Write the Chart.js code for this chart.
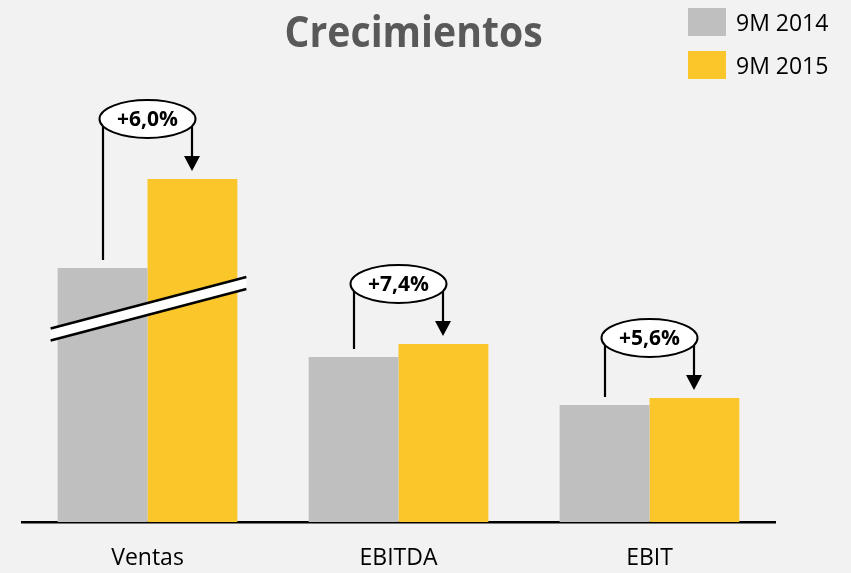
<!DOCTYPE html>
<html><head><meta charset="utf-8">
<script src="https://cdn.jsdelivr.net/npm/chart.js@4.4.1/dist/chart.umd.min.js"></script>
<style>
html,body{margin:0;padding:0;background:#f2f2f2;width:851px;height:573px;overflow:hidden;}
#wrap{position:relative;width:851px;height:573px;}
canvas{position:absolute;left:0;top:0;}
#title{position:absolute;left:0;top:9px;width:828px;text-align:center;font-family:"Open Sans";font-weight:bold;font-size:43px;line-height:43px;color:#595959;white-space:nowrap;}
#title span{display:inline-block;transform-origin:50% 50%;}
.lg-box{position:absolute;left:688px;width:38px;height:28px;}
.lg-txt{position:absolute;left:736px;font-family:"Open Sans";font-size:23px;line-height:23px;color:#000;white-space:nowrap;}
</style>
</head>
<body>
<div id="wrap">
<canvas id="c" width="851" height="573"></canvas>
<div id="title"><span id="titleText">Crecimientos</span></div>
<div id="legend"></div>
</div>
<script>
const categories = ['Ventas', 'EBITDA', 'EBIT'];
const seriesLabels = ['9M 2014', '9M 2015'];
const series2014 = [254, 165, 117];
const series2015 = [343, 178, 124];
const growthLabels = ['+6,0%', '+7,4%', '+5,6%'];
const yMax = 422;
const breakAt = 213;

const colors = ['#bfbfbf', '#fac62a'];

// title width fit
(function(){
  const m = document.createElement('canvas').getContext('2d');
  m.font = 'bold 43px "Open Sans"';
  const w = m.measureText('Crecimientos').width;
  document.getElementById('titleText').style.transform = 'scaleX(' + (258 / w) + ')';
})();

// legend
(function(){
  const lg = document.getElementById('legend');
  const tops = [8, 51];
  seriesLabels.forEach((lab, i) => {
    const b = document.createElement('div');
    b.className = 'lg-box'; b.style.top = tops[i] + 'px'; b.style.background = colors[i];
    lg.appendChild(b);
    const t = document.createElement('div');
    t.className = 'lg-txt'; t.style.top = (tops[i] + 3) + 'px'; t.textContent = lab;
    lg.appendChild(t);
  });
})();

const annot = {
  id: 'annot',
  afterDatasetsDraw(chart) {
    const ctx = chart.ctx;
    const m0 = chart.getDatasetMeta(0), m1 = chart.getDatasetMeta(1);
    const xs = chart.scales.x, ys = chart.scales.y;
    ctx.save();
    // broken-axis band on Ventas
    {
      const b0 = m0.data[0], b1 = m1.data[0];
      const xl = b0.x - b0.width / 2 - 7, xr = b1.x + b1.width / 2 + 9;
      const xc = xs.getPixelForValue(0), yc = ys.getPixelForValue(breakAt);
      const yAt = x => yc - (x - xc) * 0.263;
      const h = 6;
      ctx.beginPath();
      ctx.moveTo(xl, yAt(xl) - h); ctx.lineTo(xr, yAt(xr) - h);
      ctx.lineTo(xr, yAt(xr) + h); ctx.lineTo(xl, yAt(xl) + h); ctx.closePath();
      ctx.fillStyle = '#ffffff'; ctx.fill();
      ctx.strokeStyle = '#000'; ctx.lineWidth = 2.5;
      ctx.beginPath(); ctx.moveTo(xl, yAt(xl) - h); ctx.lineTo(xr, yAt(xr) - h); ctx.stroke();
      ctx.beginPath(); ctx.moveTo(xl, yAt(xl) + h); ctx.lineTo(xr, yAt(xr) + h); ctx.stroke();
    }
    categories.forEach((c, i) => {
      const b0 = m0.data[i], b1 = m1.data[i];
      const cx = xs.getPixelForValue(i);
      const cy = b1.y - 60;
      ctx.strokeStyle = '#000'; ctx.lineWidth = 2.2; ctx.fillStyle = '#000';
      const lx = Math.round(b0.x), rx = Math.round(b1.x);
      ctx.beginPath(); ctx.moveTo(lx, cy); ctx.lineTo(lx, b0.y - 8); ctx.stroke();
      const tip = b1.y - 8;
      ctx.beginPath(); ctx.moveTo(rx, cy); ctx.lineTo(rx, tip - 14); ctx.stroke();
      ctx.beginPath(); ctx.moveTo(rx - 8, tip - 15); ctx.lineTo(rx + 8, tip - 15); ctx.lineTo(rx, tip); ctx.closePath(); ctx.fill();
      ctx.beginPath(); ctx.ellipse(cx, cy, 48, 19, 0, 0, Math.PI * 2);
      ctx.fillStyle = '#ffffff'; ctx.fill(); ctx.lineWidth = 2; ctx.stroke();
      ctx.fillStyle = '#000'; ctx.font = 'bold 21px "Open Sans"';
      ctx.textAlign = 'center'; ctx.textBaseline = 'middle';
      ctx.fillText(growthLabels[i], cx, cy + 1);
    });
    ctx.restore();
  }
};

new Chart(document.getElementById('c'), {
  type: 'bar',
  data: {
    labels: categories,
    datasets: [
      { label: seriesLabels[0], data: series2014, backgroundColor: colors[0], borderWidth: 0, categoryPercentage: 0.716, barPercentage: 1 },
      { label: seriesLabels[1], data: series2015, backgroundColor: colors[1], borderWidth: 0, categoryPercentage: 0.716, barPercentage: 1 }
    ]
  },
  options: {
    responsive: false,
    animation: false,
    layout: { padding: { left: 22, right: 76, top: 100, bottom: 0 } },
    plugins: { legend: { display: false }, title: { display: false }, tooltip: { enabled: false } },
    scales: {
      x: {
        grid: { display: false, drawTicks: false },
        border: { display: true, color: '#000', width: 2.5 },
        ticks: { color: '#000', font: { family: 'Open Sans', size: 23 }, padding: 23 },
        afterFit(s) { s.height = 51; }
      },
      y: { display: false, min: 0, max: yMax }
    }
  },
  plugins: [annot]
});
</script>
</body></html>
